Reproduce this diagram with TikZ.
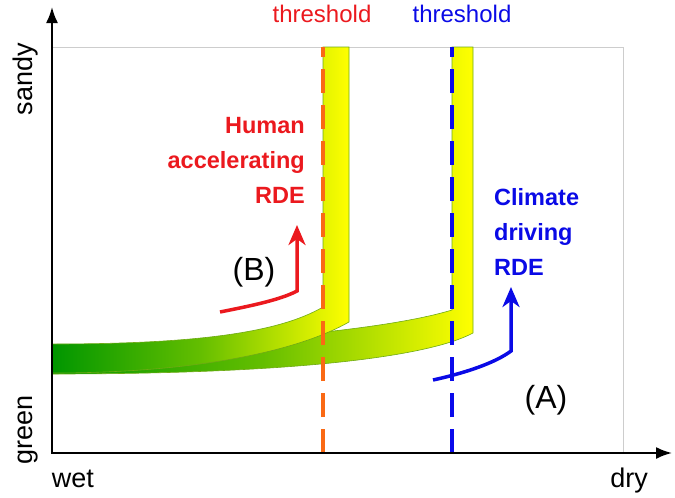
\documentclass[tikz,border=0pt]{standalone}
\usepackage{fontspec}
\setmainfont{Liberation Sans}
\usetikzlibrary{arrows.meta}
\definecolor{bandgreen}{RGB}{0,150,0}
\definecolor{bandmid}{RGB}{100,190,0}
\definecolor{bandyellow}{RGB}{255,255,0}
\definecolor{bandedge}{RGB}{110,170,20}
\definecolor{thrred}{RGB}{250,105,20}
\definecolor{thrblue}{RGB}{10,10,235}
\definecolor{txtred}{RGB}{235,25,30}
\definecolor{txtblue}{RGB}{10,10,230}
\definecolor{framegrey}{RGB}{205,205,205}
\begin{document}
\begin{tikzpicture}[x=1pt,y=-1pt,
  band/.style={draw=bandedge,line width=0.6pt,left color=bandgreen,right color=bandyellow,middle color=bandmid},
  axis/.style={line width=2pt,{Latex[length=16pt,width=12pt]}-{Latex[length=16pt,width=12pt]}},
  thrline/.style={line width=4pt,dash pattern=on 24pt off 12pt},
  rdearrow/.style={line width=3.5pt,-{Stealth[length=20pt,width=17pt,inset=6pt]}},
  axlabel/.style={font=\fontsize{27}{30}\selectfont,inner sep=0pt},
  thrlabel/.style={font=\fontsize{24}{28}\selectfont,inner sep=0pt,anchor=base},
  rdelabel/.style={font=\fontsize{23.5}{35}\selectfont\bfseries,inner sep=0pt},
  caselabel/.style={font=\fontsize{32}{36}\selectfont,inner sep=0pt}
]
\useasboundingbox (0,0) rectangle (675,498);
% frame
\draw[framegrey,line width=1pt] (52,47) -- (623,47) -- (623,453);
% band A (behind)
\path[band] (452,47) -- (452,310) .. controls (380,332) and (200,346) .. (52,346)
  -- (52,374) .. controls (300,374) and (430,356) .. (473,333) -- (473,47) -- cycle;
% band B (front)
\path[band] (323,47) -- (323,307) .. controls (280,332) and (200,344) .. (52,344)
  -- (52,373) .. controls (200,373) and (300,350) .. (349,322) -- (349,47) -- cycle;
% thresholds
\coordinate (rb) at (323,453); \coordinate (rt) at (323,47);
\coordinate (bb) at (452,453); \coordinate (bt) at (452,47);
\draw[thrline,thrred] (rb) -- (rt);
\draw[thrline,thrblue] (bb) -- (bt);
% axes
\coordinate (O) at (52,453); \coordinate (Ytip) at (52,7); \coordinate (Xtip) at (672,453);
\draw[axis] (Ytip) -- (O) -- (Xtip);
% arrows
\coordinate (Bs) at (220,312); \coordinate (Bc) at (297,291); \coordinate (Bt) at (297,225);
\draw[rdearrow,txtred] (Bs) .. controls (250,306) and (280,300) .. (Bc) -- (Bt);
\coordinate (As) at (433,380); \coordinate (Ac) at (511,351); \coordinate (At) at (511,287);
\draw[rdearrow,txtblue] (As) .. controls (465,373) and (495,363) .. (Ac) -- (At);
% labels
\node[axlabel,rotate=90,anchor=base] (sandy) at (32,79) {sandy};
\node[axlabel,rotate=90,anchor=base] (green) at (32,430) {green};
\node[axlabel,anchor=base] (wet) at (73,487) {wet};
\node[axlabel,anchor=base] (dry) at (629,487) {dry};
\node[thrlabel,text=txtred] (thrR) at (322,22) {threshold};
\node[thrlabel,text=txtblue] (thrB) at (462,22) {threshold};
\node[rdelabel,text=txtred,align=right,anchor=east] (human) at (305,160) {Human\\accelerating\\RDE};
\node[rdelabel,text=txtblue,align=left,anchor=west] (climate) at (494,232) {Climate\\driving\\RDE};
\node[caselabel] (caseB) at (254,272) {(B)};
\node[caselabel] (caseA) at (546,400) {(A)};
\end{tikzpicture}
\end{document}
